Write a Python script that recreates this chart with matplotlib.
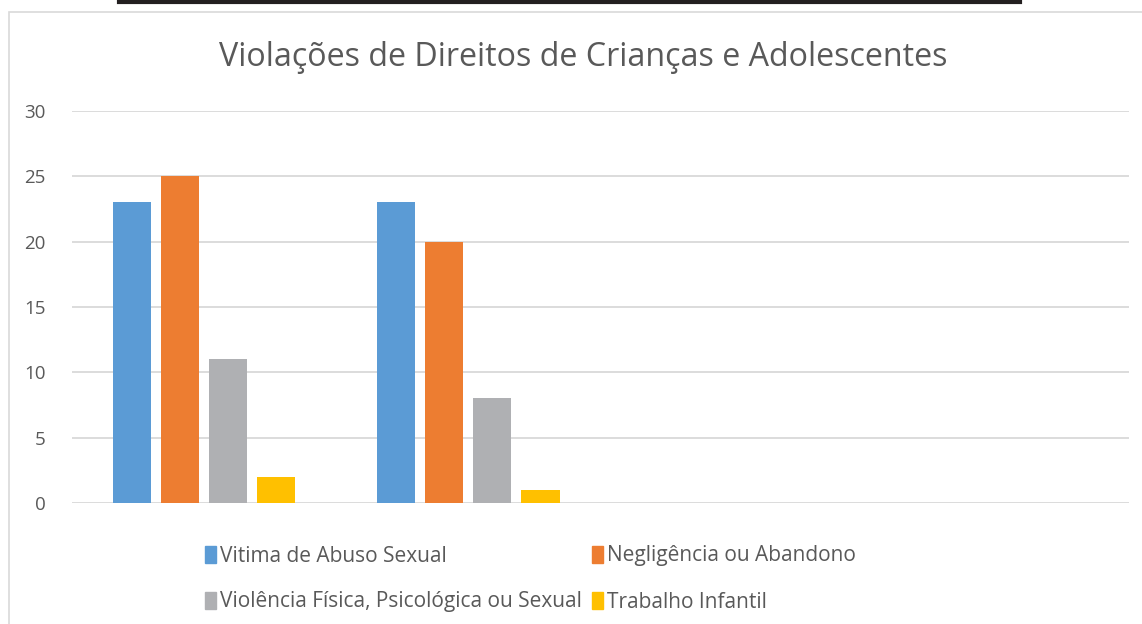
import numpy as np
import matplotlib
matplotlib.use("Agg")
import matplotlib.pyplot as plt
from matplotlib.patches import Rectangle
from matplotlib.lines import Line2D

plt.rcParams["font.family"] = ["Open Sans", "DejaVu Sans"]

TITLE = "Violações de Direitos de Crianças e Adolescentes"
categories = ["", "", "", ""]
series_names = ["Vitima de Abuso Sexual", "Negligência ou Abandono",
                "Violência Física, Psicológica ou Sexual", "Trabalho Infantil"]
abuso = [23, 23, np.nan, np.nan]
negligencia = [25, 20, np.nan, np.nan]
violencia = [11, 8, np.nan, np.nan]
trabalho = [2, 1, np.nan, np.nan]
yticks = [0, 5, 10, 15, 20, 25, 30]

colors = ["#5B9BD5", "#ED7D31", "#AFB0B3", "#FFC000"]
TXT = "#595959"

fig = plt.figure(figsize=(11.42, 6.24), dpi=100)
ax = fig.add_axes([72/1142, 1-503/624, (1129-72)/1142, (503-111)/624])

x = np.arange(len(categories))
w = 0.144
step = 0.182
for i, (vals, c) in enumerate(zip([abuso, negligencia, violencia, trabalho], colors)):
    ax.bar(x + (i - 1.5)*step, vals, width=w, color=c, label=series_names[i], zorder=3)

ax.set_xlim(-0.5, len(categories) - 0.5)
ax.set_ylim(0, 30)
ax.set_yticks(yticks)
ax.set_xticks(x)
ax.set_xticklabels(categories)
ax.tick_params(axis="both", length=0, labelsize=13.5, colors=TXT, pad=19)
ax.grid(axis="y", color="#D9D9D9", linewidth=1.3, zorder=0)
for s in ax.spines.values():
    s.set_visible(False)

fig.text(0.511, 1-57/624, TITLE, ha="center", va="center", fontsize=23.2, color=TXT)

# legend is filled by column, so reorder to read row by row
order = [0, 2, 1, 3]
handles = [Rectangle((0, 0), 1, 1, color=colors[k]) for k in order]
labels = [series_names[k] for k in order]
fig.legend(handles, labels, ncol=2, loc="center left",
           bbox_to_anchor=(186/1142, 1-579/624), frameon=False,
           fontsize=15, labelcolor=TXT, handlelength=0.55, handleheight=0.85,
           handletextpad=0.2, columnspacing=0.45, labelspacing=1.2)

# chart border and the black rule above it
fig.add_artist(Rectangle((9/1142, -0.1), 1.2, 1.1 - 12/624, transform=fig.transFigure,
                         fill=False, edgecolor="#D9D9D9", linewidth=1.2))
fig.add_artist(Line2D([119/1142, 1020/1142], [1-1.5/624, 1-1.5/624],
                      transform=fig.transFigure, color="#231F20", linewidth=3))

fig.savefig("out.png", dpi=100)
